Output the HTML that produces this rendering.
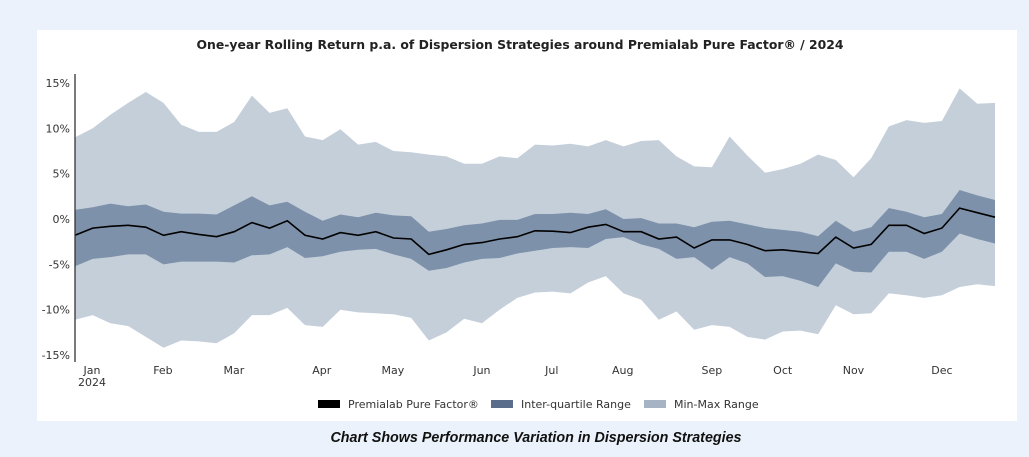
<!DOCTYPE html>
<html><head><meta charset="utf-8"><style>
body{margin:0;width:1029px;height:457px;background:#ebf2fb;font-family:"Liberation Sans","DejaVu Sans",sans-serif;overflow:hidden;position:relative}
#card{position:absolute;left:37px;top:30px;width:980px;height:391px;background:#fff}
#cap{position:absolute;left:0;width:1072px;top:430px;text-align:center;font-weight:bold;font-style:italic;font-size:14.3px;color:#111}
</style></head><body>
<div id="card"></div>
<svg id="chart" width="1029" height="457" style="position:absolute;left:0;top:0" font-family="DejaVu Sans, Liberation Sans, sans-serif"></svg>
<div id="cap">Chart Shows Performance Variation in Dispersion Strategies</div>
<script>
const maxV=[9.0,10,11.5,12.8,14,12.8,10.4,9.6,9.6,10.7,13.6,11.7,12.2,9.1,8.7,9.9,8.2,8.5,7.5,7.35,7.1,6.9,6.1,6.1,6.9,6.7,8.2,8.1,8.3,8.0,8.7,8.0,8.6,8.7,6.9,5.8,5.7,9.1,7.0,5.1,5.5,6.1,7.1,6.5,4.6,6.7,10.2,10.9,10.6,10.8,14.4,12.7,12.8];
const q3V=[1.0,1.3,1.7,1.4,1.6,0.8,0.6,0.6,0.5,1.5,2.5,1.5,1.9,0.8,-0.2,0.5,0.2,0.7,0.4,0.3,-1.4,-1.1,-0.7,-0.5,-0.1,-0.1,0.55,0.55,0.7,0.55,1.07,0.0,0.1,-0.5,-0.5,-0.9,-0.3,-0.2,-0.6,-1.0,-1.2,-1.4,-1.9,-0.2,-1.4,-0.9,1.2,0.8,0.2,0.55,3.2,2.6,2.1];
const medV=[-1.8,-1.0,-0.8,-0.7,-0.9,-1.8,-1.4,-1.7,-1.95,-1.4,-0.4,-1.0,-0.2,-1.8,-2.2,-1.5,-1.8,-1.4,-2.1,-2.2,-3.9,-3.4,-2.8,-2.6,-2.2,-1.95,-1.3,-1.35,-1.5,-0.9,-0.6,-1.4,-1.4,-2.2,-2.0,-3.2,-2.3,-2.3,-2.8,-3.5,-3.4,-3.6,-3.8,-2.0,-3.2,-2.8,-0.7,-0.7,-1.6,-1.0,1.2,0.7,0.2];
const q1V=[-5.2,-4.4,-4.2,-3.9,-3.9,-5.0,-4.7,-4.7,-4.7,-4.8,-4.0,-3.9,-3.1,-4.3,-4.1,-3.6,-3.4,-3.3,-3.9,-4.4,-5.7,-5.4,-4.8,-4.4,-4.3,-3.8,-3.5,-3.2,-3.1,-3.2,-2.2,-2.0,-2.8,-3.3,-4.4,-4.2,-5.6,-4.2,-4.9,-6.4,-6.3,-6.8,-7.5,-4.9,-5.8,-5.9,-3.6,-3.6,-4.4,-3.6,-1.6,-2.2,-2.7];
const minV=[-11.1,-10.6,-11.5,-11.8,-13.0,-14.2,-13.4,-13.5,-13.7,-12.6,-10.6,-10.6,-9.8,-11.7,-11.9,-10.0,-10.3,-10.4,-10.5,-10.9,-13.4,-12.5,-11.0,-11.5,-10.0,-8.7,-8.1,-8.0,-8.2,-7.0,-6.3,-8.2,-8.9,-11.1,-10.2,-12.2,-11.7,-11.9,-13.0,-13.3,-12.4,-12.3,-12.7,-9.5,-10.5,-10.4,-8.2,-8.4,-8.7,-8.4,-7.5,-7.2,-7.4];
const yTicks=[15,10,5,0,-5,-10,-15];
const monthLabels=["Jan","Feb","Mar","Apr","May","Jun","Jul","Aug","Sep","Oct","Nov","Dec"];
const monthIdx=[0.96,4.97,8.98,13.95,17.97,23.0,26.95,30.96,36.0,40.0,44.0,49.0];

const NS="http://www.w3.org/2000/svg",svg=document.getElementById('chart');
const X0=75,X1=995,Y0=219,PX=9.07;
const n=medV.length;
const x=i=>X0+i*(X1-X0)/(n-1);
const y=v=>Y0-v*PX;
function el(t,a,p){const e=document.createElementNS(NS,t);for(const k in a)e.setAttribute(k,a[k]);(p||svg).appendChild(e);return e;}
function band(hi,lo){let d='M'+hi.map((v,i)=>x(i).toFixed(1)+','+y(v).toFixed(1)).join('L');for(let i=lo.length-1;i>=0;i--)d+='L'+x(i).toFixed(1)+','+y(lo[i]).toFixed(1);return d+'Z';}
let t=el('text',{x:520,y:49,'text-anchor':'middle','font-size':12.4,'font-weight':'bold',fill:'#222'});


t.textContent='One-year Rolling Return p.a. of Dispersion Strategies around Premialab Pure Factor® / 2024';
let p=el('path',{d:band(maxV,minV),fill:'#c5cfda'});


p=el('path',{d:band(q3V,q1V),fill:'#7d91aa'});


p=el('polyline',{points:medV.map((v,i)=>x(i).toFixed(1)+','+y(v).toFixed(1)).join(' '),fill:'none',stroke:'#000','stroke-width':1.6});


p=el('line',{x1:X0,x2:X0,y1:74,y2:362,stroke:'#333','stroke-width':1.3});


yTicks.forEach(v=>{const tt=el('text',{x:70,y:y(v)+4,'text-anchor':'end','font-size':11,fill:'#333'});


tt.textContent=v+'%';});
monthLabels.forEach((m,k)=>{const tt=el('text',{x:x(monthIdx[k]),y:374,'text-anchor':'middle','font-size':11,fill:'#333'});


tt.textContent=m;});
t=el('text',{x:x(monthIdx[0]),y:386,'text-anchor':'middle','font-size':11,fill:'#333'});


t.textContent='2024';
const leg=[['Premialab Pure Factor®','#000',318],['Inter-quartile Range','#5a6e8c',491],['Min-Max Range','#a6b3c5',644]];
leg.forEach(l=>{const g=el('g',{});


el('rect',{x:l[2],y:400,width:22,height:8,fill:l[1]},g);
const tt=el('text',{x:l[2]+30,y:408,'font-size':11,fill:'#333'},g);tt.textContent=l[0];});
</script>
</body></html>
